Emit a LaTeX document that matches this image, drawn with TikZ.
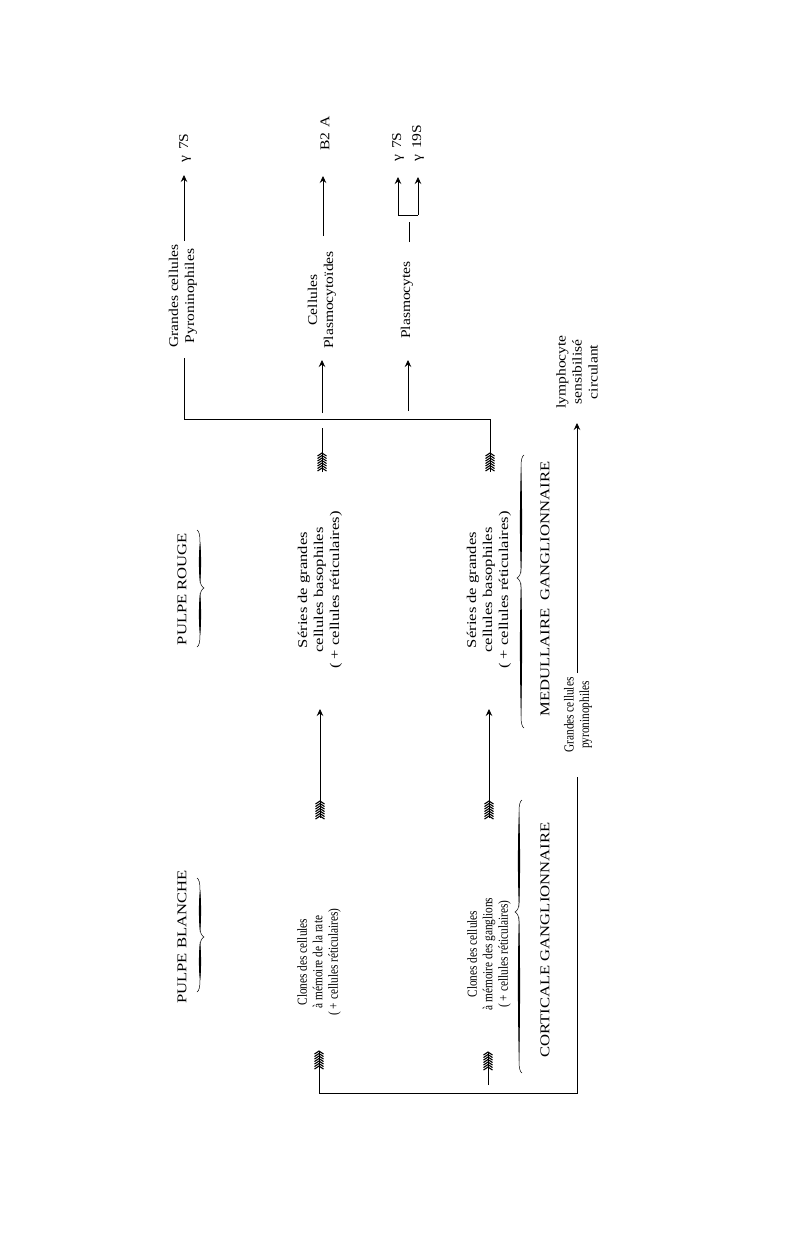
\documentclass[tikz,border=0pt]{standalone}
\usepackage{fontspec}
\setmainfont{Liberation Serif}
\newfontfamily\narrowf[FakeStretch=0.82]{Liberation Serif}
\newfontfamily\midf[FakeStretch=1.16]{Liberation Serif}
\newfontfamily\widef[FakeStretch=1.24]{Liberation Serif}
\usetikzlibrary{arrows.meta}
\tikzset{
  lbl/.style={rotate=90,inner sep=0pt,align=center},
  ntxt/.style={lbl,font=\narrowf\fontsize{13.8}{15.5}\selectfont},
  mtxt/.style={lbl,font=\midf\fontsize{13.4}{16}\selectfont},
  wtxt/.style={lbl,font=\widef\fontsize{13.4}{16}\selectfont},
  ln/.style={line width=0.7pt},
  arr/.style={ln,-{Stealth[length=7pt,width=6.5pt,inset=2.5pt]}},
  fl/.style={line width=1.1pt},
  bl/.style={line width=0.5pt},
}
\newcommand\fletch[2]{%
  \foreach \k in {0,...,6}{\draw[fl] ({#1-4.5},{#2+3+2.5*\k}) -- (#1,{#2+2.5*\k}) -- ({#1+4.5},{#2+3+2.5*\k});}%
}
\newcommand\gbrace[5]{%
 \draw[bl] ({#1-3*(#5)},#2) .. controls ({#1-1*(#5)},{#2+1}) and (#1,{#2+5}) .. (#1,{#2+12})
  -- (#1,{#3-9}) .. controls (#1,{#3-4}) and ({#1+2*(#5)},{#3-1}) .. ({#1+4*(#5)},#3)
  .. controls ({#1+2*(#5)},{#3+1}) and (#1,{#3+4}) .. (#1,{#3+9})
  -- (#1,{#4-12}) .. controls (#1,{#4-5}) and ({#1-1*(#5)},{#4-1}) .. ({#1-3*(#5)},#4);
 \fill ({#1},{#2+12}) .. controls ({#1+1.4},{#2+0.35*(#3-#2)}) and ({#1+1.4},{#3-0.25*(#3-#2)}) .. ({#1},{#3-5}) .. controls ({#1-1.4},{#3-0.25*(#3-#2)}) and ({#1-1.4},{#2+0.35*(#3-#2)}) .. cycle;
 \fill ({#1},{#3+5}) .. controls ({#1+1.4},{#3+0.25*(#4-#3)}) and ({#1+1.4},{#4-0.35*(#4-#3)}) .. ({#1},{#4-12}) .. controls ({#1-1.4},{#4-0.35*(#4-#3)}) and ({#1-1.4},{#3+0.25*(#4-#3)}) .. cycle;
}
\begin{document}
\begin{tikzpicture}[x=1pt,y=-1pt]
\path[use as bounding box,fill=white] (0,0) rectangle (800,1242);

% labels
\node[wtxt] (pb) at (182,937) {PULPE BLANCHE};
\node[wtxt] (pr) at (182,589) {PULPE ROUGE};
\node[wtxt] (cg) at (545,940) {CORTICALE GANGLIONNAIRE};
\node[wtxt] (mg) at (545,589) {MEDULLAIRE\hspace{0.3em} GANGLIONNAIRE};
\node[ntxt] (clA) at (319,962) {Clones des cellules\\à mémoire de la rate\\( + cellules réticulaires)};
\node[ntxt] (clB) at (489,954) {Clones des cellules\\à mémoire des ganglions\\( + cellules réticulaires)};
\node[wtxt] (seA) at (320,590) {Séries de grandes\\cellules basophiles\\( + cellules réticulaires)};
\node[wtxt] (seB) at (489,590) {Séries de grandes\\cellules basophiles\\( + cellules réticulaires)};
\node[mtxt] (gcT) at (183,296) {Grandes cellules\\Pyroninophiles};
\node[mtxt] (cpl) at (322,300) {Cellules\\Plasmocytoïdes};
\node[mtxt] (pls) at (407,300) {Plasmocytes};
\node[mtxt] (lym) at (577,372) {lymphocyte\\sensibilisé\\circulant};
\node[ntxt] (gcM) at (578,715) {Grandes cellules\\pyroninophiles};
\node[mtxt,anchor=west] (gA) at (185,163) {γ\hspace{0.45em}7S};
\node[mtxt,anchor=west] (b2) at (325,151) {B2\hspace{0.4em}A};
\node[mtxt,anchor=west] (gB) at (398,162) {γ\hspace{0.45em}7S};
\node[mtxt,anchor=west] (gC) at (418,162) {γ\hspace{0.45em}19S};

% coordinates
\coordinate (gcTb) at (184,358);
\coordinate (gcTt) at (184,241);
\coordinate (gAt) at (184,175);
\coordinate (cpt) at (323,236);
\coordinate (b2t) at (323,176);
\coordinate (stB) at (409,242);
\coordinate (stT) at (409,222);
\coordinate (brL) at (398,215);
\coordinate (brR) at (418,215);
\coordinate (brLt) at (398,177);
\coordinate (brRt) at (418,177);
\coordinate (jL) at (184,419);
\coordinate (jR) at (490,419);
\coordinate (cpB) at (322,413);
\coordinate (cpH) at (322,360);
\coordinate (plB) at (408,411);
\coordinate (plH) at (408,360);
\coordinate (sAt) at (322,428);
\coordinate (sAb) at (322,472);
\coordinate (sBb) at (490,472);
\coordinate (rAb) at (320,818);
\coordinate (rAh) at (320,709);
\coordinate (rBb) at (489,818);
\coordinate (rBh) at (489,709);
\coordinate (gMt) at (577,673);
\coordinate (lyH) at (577,423);
\coordinate (gMb) at (577,777);
\coordinate (cBR) at (577,1093);
\coordinate (cBL) at (319,1093);
\coordinate (fA) at (319,1052);
\coordinate (sBs) at (488,1085);
\coordinate (fB) at (488,1053);

% connectors
\draw[arr] (gcTt) -- (gAt);
\draw[arr] (cpt) -- (b2t);
\draw[ln] (stB) -- (stT);
\draw[arr] (brL) -- (brLt);
\draw[arr] (brR) -- (brRt);
\draw[ln] (brL) -- (brR);
\draw[ln] (gcTb) -- (jL) -- (jR);
\draw[arr] (cpB) -- (cpH);
\draw[arr] (plB) -- (plH);
\draw[ln] (sAb) -- (sAt); \fletch{322}{453}
\draw[ln] (sBb) -- (jR); \fletch{490}{453}
\draw[arr] (rAb) -- (rAh); \fletch{320}{801}
\draw[arr] (rBb) -- (rBh); \fletch{489}{801}
\draw[arr] (gMt) -- (lyH);
\draw[ln] (gMb) -- (cBR) -- (cBL) -- (fA); \fletch{319}{1051}
\draw[ln] (sBs) -- (fB); \fletch{488}{1052}

% braces
\gbrace{200}{530}{588}{647}{1}
\gbrace{200}{878}{937}{992}{1}
\gbrace{521}{455}{578}{728}{-1}
\gbrace{519}{800}{912}{1073}{-1}
\end{tikzpicture}
\end{document}
